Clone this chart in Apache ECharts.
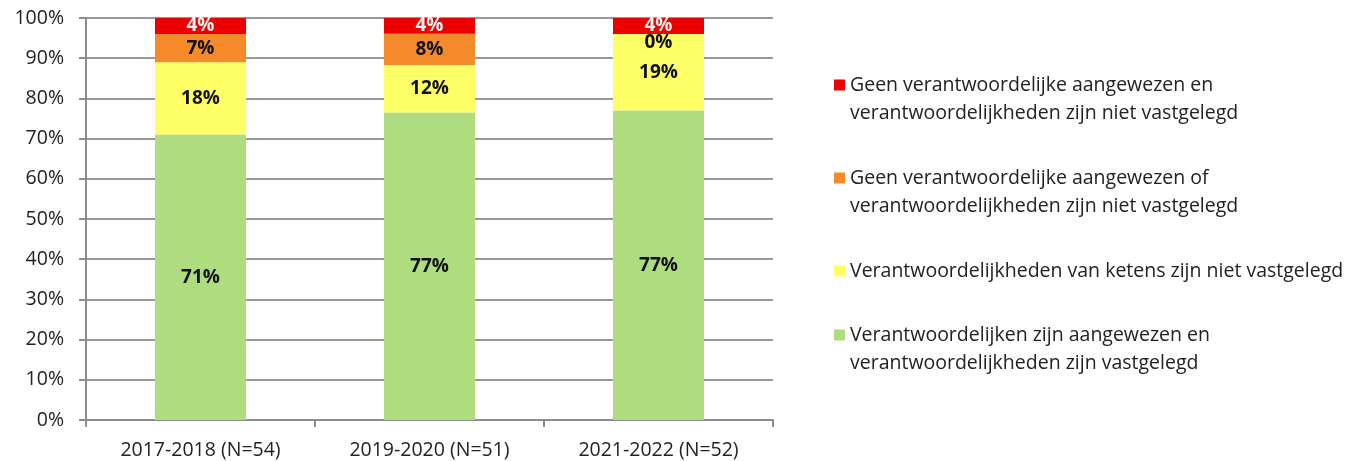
<!DOCTYPE html>
<html>
<head>
<meta charset="utf-8">
<script src="https://cdn.jsdelivr.net/npm/echarts@6/dist/echarts.min.js"></script>
<style>
    html, body { margin: 0; padding: 0; background: #fff; }
    #chart { width: 1357px; height: 461px; }
</style>
</head>
<body>
<div id="chart"></div>
<script>
// data (percentages)
const categories = ["2017-2018 (N=54)", "2019-2020 (N=51)", "2021-2022 (N=52)"];
const seriesNames = [
    "Verantwoordelijken zijn aangewezen en verantwoordelijkheden zijn vastgelegd",
    "Verantwoordelijkheden van ketens zijn niet vastgelegd",
    "Geen verantwoordelijke aangewezen of verantwoordelijkheden zijn niet vastgelegd",
    "Geen verantwoordelijke aangewezen en verantwoordelijkheden zijn niet vastgelegd"
];
const legendLabels = [
    "Verantwoordelijken zijn aangewezen en\nverantwoordelijkheden zijn vastgelegd",
    "Verantwoordelijkheden van ketens zijn niet vastgelegd",
    "Geen verantwoordelijke aangewezen of\nverantwoordelijkheden zijn niet vastgelegd",
    "Geen verantwoordelijke aangewezen en\nverantwoordelijkheden zijn niet vastgelegd"
];
const greenVals = [71, 76.5, 77];
const yellowVals = [18, 11.8, 19];
const orangeVals = [7, 7.8, 0];
const redVals = [4, 3.9, 4];
const yTicks = [0, 10, 20, 30, 40, 50, 60, 70, 80, 90, 100];

const colors = ["#AEDC7E", "#FFFF66", "#F58A2A", "#EC0000"];
const font = "Open Sans";

const pct = p => Math.round(p.value) + "%";

const mkSeries = (name, vals, color, labelColor) => ({
    name,
    type: "bar",
    stack: "all",
    barWidth: 91,
    itemStyle: { color },
    label: {
        show: true,
        position: "inside",
        formatter: pct,
        color: labelColor,
        fontFamily: font,
        fontWeight: "bold",
        fontSize: 19,
    },
    labelLayout: { hideOverlap: false },
    // a 0% segment has no height, so its label sits just under the bar edge
    data: vals.map(v =>
        v === 0
            ? { value: v, label: { position: ["50%", 9], align: "center", verticalAlign: "middle" } }
            : v
    ),
});

// square at the top of a taller invisible box: keeps the marker on the first text line
const topIcon = "path://M0,0h11v11h-11z M5.5,39h0.01v0.01h-0.01z";

const legendAt = (i, top, twoLines) => ({
    orient: "vertical",
    left: 834,
    top,
    padding: 0,
    icon: twoLines ? topIcon : "rect",
    itemWidth: 11,
    itemHeight: twoLines ? 39 : 11,
    selectedMode: false,
    data: [seriesNames[i]],
    formatter: () => legendLabels[i],
    textStyle: {
        fontFamily: font,
        fontSize: 19.5,
        lineHeight: 28,
        color: "#222",
    },
});

const chart = echarts.init(document.getElementById("chart"));
chart.setOption({
    animation: false,
    grid: { left: 86, right: 584, top: 18, bottom: 41, containLabel: false },
    legend: [
        legendAt(3, 71, true),
        legendAt(2, 164, true),
        legendAt(1, 257, false),
        legendAt(0, 321, true),
    ],
    xAxis: {
        type: "category",
        data: categories,
        axisLine: { lineStyle: { color: "#8c8c8c", width: 2 } },
        axisTick: { show: true, length: 7, lineStyle: { color: "#8c8c8c", width: 2 } },
        axisLabel: { fontFamily: font, fontSize: 19.5, color: "#222", margin: 20 },
    },
    yAxis: {
        type: "value",
        min: yTicks[0],
        max: yTicks[yTicks.length - 1],
        interval: 10,
        axisLine: { show: true, lineStyle: { color: "#8c8c8c", width: 2 } },
        axisTick: { show: true, length: 7, lineStyle: { color: "#8c8c8c", width: 2 } },
        splitLine: { lineStyle: { color: "#999", width: 2 } },
        axisLabel: { formatter: "{value}%", fontFamily: font, fontSize: 19.5, color: "#222", margin: 22 },
    },
    series: [
        mkSeries(seriesNames[0], greenVals, colors[0], "#111"),
        mkSeries(seriesNames[1], yellowVals, colors[1], "#111"),
        mkSeries(seriesNames[2], orangeVals, colors[2], "#111"),
        mkSeries(seriesNames[3], redVals, colors[3], "#f2f2f2"),
    ],
});
</script>
</body>
</html>
